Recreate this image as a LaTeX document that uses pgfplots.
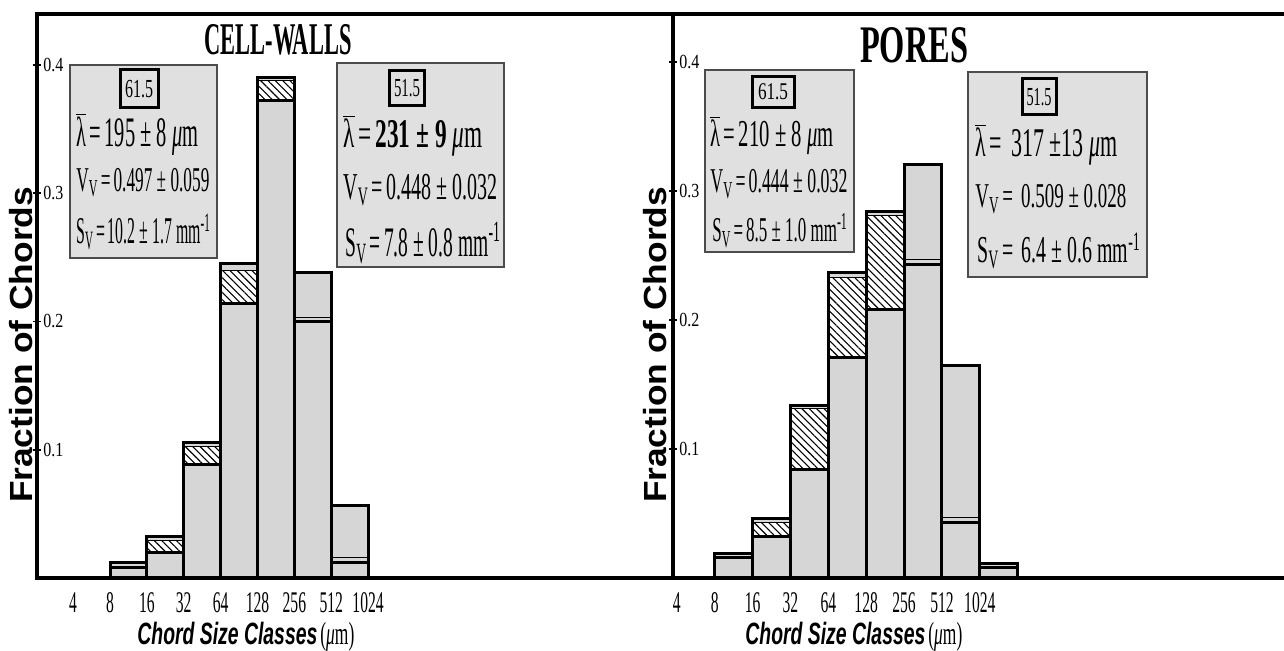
\documentclass[border=0pt]{standalone}
\usepackage{fontspec}
\setmainfont{Liberation Serif}
\setsansfont{Liberation Sans}
\newfontfamily\xtickfont[FakeStretch=0.52]{Liberation Serif}
\newfontfamily\ytickfont[FakeStretch=0.8]{Liberation Serif}
\usepackage{graphicx}
\usepackage{pgfplots}
\pgfplotsset{compat=1.18}
\usetikzlibrary{patterns,patterns.meta}
\newcommand\fitw[2]{\resizebox{#1}{\height}{#2}}
\newcommand\fs[1]{\fontsize{#1}{#1}\selectfont}
\definecolor{bargray}{gray}{0.84}
\definecolor{boxgray}{gray}{0.88}
\newcommand\lam{$\overline{\mbox{λ}}$}
\newcommand\mum{{\itshape μ}m}
\pgfplotsset{
  panel/.style={
    scale only axis, anchor=south west,
    height=282pt, ymin=0,
    axis x line*=bottom, axis y line*=left,
    axis line style={line width=2pt, line cap=rect},
    xtick={2,...,10},
    xticklabels={4,8,16,32,64,128,256,512,1024},
    ytick={0.1,0.2,0.3,0.4},
    yticklabels={0.1,0.2,0.3,0.4},
    xtick style={draw=none},
    ytick style={line width=0.8pt, black},
    ytick align=center, major tick length=4pt,
    /pgf/number format/assume math mode=true,
    xticklabel style={inner sep=0pt, anchor=north, yshift=-7pt, font=\xtickfont\fs{15}},
    yticklabel style={inner sep=0pt, anchor=west, xshift=5pt, font=\ytickfont\fs{10}},
  },
  outer/.style={ybar interval, fill=bargray, draw=black, line width=1.5pt},
  hwhite/.style={ybar interval, fill=white, draw=none},
  hatch/.style={ybar interval, pattern={Lines[angle=-45, distance=2.6pt, line width=0.55pt]}, draw=black, line width=0.5pt},
  band/.style={ybar interval, draw=black, line width=0.5pt},
  inner/.style={ybar interval, fill=bargray, draw=black, line width=1.5pt},
  reline/.style={ybar interval, draw=black, line width=1.5pt},
}
\begin{document}
\begin{tikzpicture}
\useasboundingbox (0,0) rectangle (642pt,325.5pt);
% ---------- CELL-WALLS ----------
\begin{axis}[panel, at={(18.5pt,36.5pt)}, width=318pt,
  xmin=1.02, xmax=18.27, ymax=0.4397]
\addplot[outer] coordinates {(3,0.0117) (4,0.0326) (5,0.106) (6,0.245) (7,0.390) (8,0.238) (9,0.0567) (10,0)};
\addplot[hwhite] coordinates {(3,0.0085) (4,0.029) (5,0.1025) (6,0.240) (7,0.388) (8,0.200) (9,0.012) (10,0)};
\addplot[hatch] coordinates {(3,0.0085) (4,0.029) (5,0.1025) (6,0.240) (7,0.388) (8,0.200) (9,0.012) (10,0)};
\addplot[band] coordinates {(3,0.0085) (4,0.029) (5,0.1025) (6,0.240) (7,0.388) (8,0.203) (9,0.016) (10,0)};
\addplot[inner] coordinates {(3,0.0085) (4,0.020) (5,0.0885) (6,0.214) (7,0.372) (8,0.200) (9,0.012) (10,0)};
\addplot[reline] coordinates {(3,0.0117) (4,0.0326) (5,0.106) (6,0.245) (7,0.390) (8,0.238) (9,0.0567) (10,0)};
\end{axis}
% ---------- PORES ----------
\begin{axis}[panel, at={(336.5pt,36.5pt)}, width=305.5pt,
  xmin=1.9, xmax=18.03, ymax=0.437]
\addplot[outer] coordinates {(3,0.019) (4,0.046) (5,0.134) (6,0.237) (7,0.284) (8,0.320) (9,0.165) (10,0.011) (11,0)};
\addplot[hwhite] coordinates {(3,0.0155) (4,0.0427) (5,0.131) (6,0.233) (7,0.281) (8,0.243) (9,0.043) (10,0.008) (11,0)};
\addplot[hatch] coordinates {(3,0.0155) (4,0.0427) (5,0.131) (6,0.233) (7,0.281) (8,0.243) (9,0.043) (10,0.008) (11,0)};
\addplot[band] coordinates {(3,0.0155) (4,0.0427) (5,0.131) (6,0.233) (7,0.281) (8,0.247) (9,0.047) (10,0.008) (11,0)};
\addplot[inner] coordinates {(3,0.0155) (4,0.032) (5,0.084) (6,0.171) (7,0.208) (8,0.243) (9,0.043) (10,0.008) (11,0)};
\addplot[reline] coordinates {(3,0.019) (4,0.046) (5,0.134) (6,0.237) (7,0.284) (8,0.320) (9,0.165) (10,0.011) (11,0)};
\end{axis}
% ---------- annotations (pixel coordinates) ----------
\begin{scope}[shift={(0pt,325.5pt)}, x=0.5pt, y=-0.5pt]
\draw[line width=2pt, line cap=rect] (37,14) -- (1284,14);
% titles
\node[anchor=base, inner sep=0] at (278,55) {\fitw{73.5pt}{\bfseries\fs{22.7}CELL-WALLS}};
\node[anchor=base, inner sep=0] at (914,63) {\fitw{54pt}{\bfseries\fs{26.4}PORES}};
% y labels
\node[rotate=90, inner sep=0] at (21,345) {\fitw{158pt}{\sffamily\bfseries\fs{16}Fraction of Chords}};
\node[rotate=90, inner sep=0] at (655,345) {\fitw{158pt}{\sffamily\bfseries\fs{16}Fraction of Chords}};
% x labels
\node[anchor=base west, inner sep=0] at (137,645) {\fitw{90pt}{\sffamily\bfseries\itshape\fs{15.4}Chord Size Classes}\hspace{1.5pt}\fitw{17pt}{\fs{16}(\mum)}};
\node[anchor=base west, inner sep=0] at (745,645) {\fitw{90pt}{\sffamily\bfseries\itshape\fs{15.4}Chord Size Classes}\hspace{1.5pt}\fitw{17pt}{\fs{16}(\mum)}};
% boxes
\filldraw[fill=boxgray, draw=black!70, line width=0.7pt] (70,65) rectangle (217,258);
\filldraw[fill=boxgray, draw=black!70, line width=0.7pt] (337,63) rectangle (504,267);
\filldraw[fill=boxgray, draw=black!70, line width=0.7pt] (705,70) rectangle (854,252);
\filldraw[fill=boxgray, draw=black!70, line width=0.7pt] (968,72) rectangle (1147,277);
% label boxes
\node[draw, line width=1.5pt, minimum width=19pt, minimum height=19pt, inner sep=0pt] at (139,89) {\fitw{14pt}{\fs{13}61.5}};
\node[draw, line width=1.5pt, minimum width=17.5pt, minimum height=17.5pt, inner sep=0pt] at (407,88) {\fitw{13pt}{\fs{13}51.5}};
\node[draw, line width=1.5pt, minimum width=21pt, minimum height=15.5pt, inner sep=0pt] at (773,92) {\fitw{15pt}{\fs{12}61.5}};
\node[draw, line width=1.5pt, minimum width=17pt, minimum height=18pt, inner sep=0pt] at (1039,97) {\fitw{12.5pt}{\fs{13}51.5}};
% box texts
\node[anchor=base west, inner sep=0] at (76,147) {\fitw{61pt}{\fs{21}\lam\,=\,195 ± 8 \mum}};
\node[anchor=base west, inner sep=0] at (76,191.5) {\fitw{66.5pt}{\fs{17.4}V\textsubscript{V}\,=\,0.497 ± 0.059}};
\node[anchor=base west, inner sep=0] at (76,244) {\fitw{67pt}{\fs{18.9}S\textsubscript{V}\,=\,10.2 ± 1.7 mm\textsuperscript{-1}}};
\node[anchor=base west, inner sep=0] at (343,148) {\fitw{69.5pt}{\fs{20.4}\lam\,=\,\textbf{231 ± 9} \mum}};
\node[anchor=base west, inner sep=0] at (343,200) {\fitw{77pt}{\fs{19}V\textsubscript{V}\,=\,0.448 ± 0.032}};
\node[anchor=base west, inner sep=0] at (345,257) {\fitw{77.5pt}{\fs{21}S\textsubscript{V}\,=\,7.8 ± 0.8 mm\textsuperscript{-1}}};
\node[anchor=base west, inner sep=0] at (710,147) {\fitw{61.5pt}{\fs{19}\lam\,=\,210 ± 8 \mum}};
\node[anchor=base west, inner sep=0] at (710,193) {\fitw{68.5pt}{\fs{17.4}V\textsubscript{V}\,=\,0.444 ± 0.032}};
\node[anchor=base west, inner sep=0] at (712,242) {\fitw{67.5pt}{\fs{17.4}S\textsubscript{V}\,=\,8.5 ± 1.0 mm\textsuperscript{-1}}};
\node[anchor=base west, inner sep=0] at (975,157) {\fitw{71pt}{\fs{20.4}\lam\,=\, 317 ±13 \mum}};
\node[anchor=base west, inner sep=0] at (975,208) {\fitw{75.5pt}{\fs{17.4}V\textsubscript{V}\,=\, 0.509 ± 0.028}};
\node[anchor=base west, inner sep=0] at (977,263) {\fitw{81.5pt}{\fs{19}S\textsubscript{V}\,=\, 6.4 ± 0.6 mm\textsuperscript{-1}}};
\end{scope}
\end{tikzpicture}
\end{document}
